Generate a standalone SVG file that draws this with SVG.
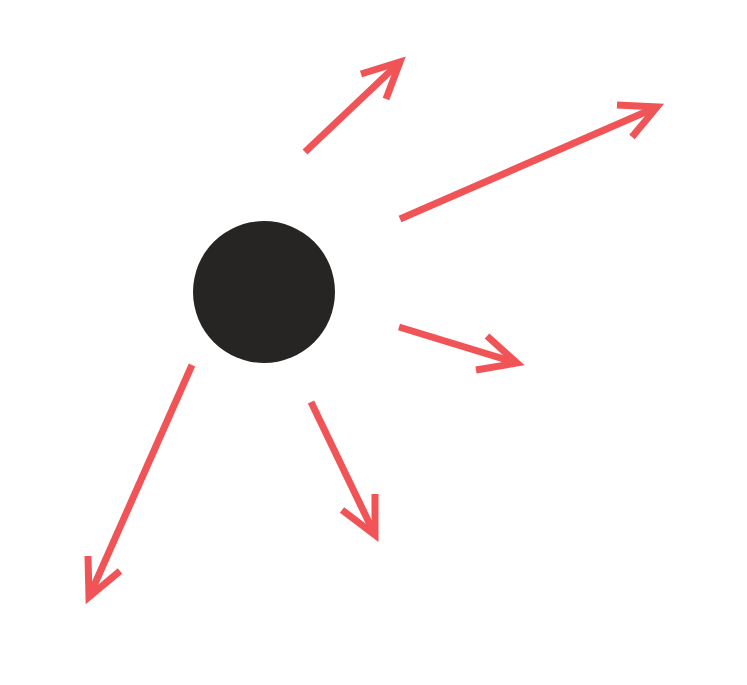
<svg xmlns="http://www.w3.org/2000/svg" width="747" height="685" viewBox="0 0 747 685">
<style>
.a{fill:none;stroke:#f05456;stroke-width:7;stroke-linecap:butt;stroke-linejoin:miter;stroke-miterlimit:10}
</style>
<rect width="747" height="685" fill="#ffffff"/>
<g id="node-center">
<circle cx="264" cy="292" r="71" fill="#262523"/>
</g>
<g id="connectors">
<g id="arrow-1"><line class="a" x1="305" y1="152" x2="400" y2="62"/><polyline class="a" points="361,74 400,62 386,99"/></g>
<g id="arrow-2"><line class="a" x1="400" y1="219" x2="657" y2="107"/><polyline class="a" points="617,105 657,107 632,137"/></g>
<g id="arrow-3"><line class="a" x1="399" y1="327" x2="517" y2="363"/><polyline class="a" points="487,336 517,363 476,370"/></g>
<g id="arrow-4"><line class="a" x1="311" y1="402" x2="375" y2="535"/><polyline class="a" points="375,494 375,535 342,510"/></g>
<g id="arrow-5"><line class="a" x1="192" y1="365" x2="89" y2="597"/><polyline class="a" points="88,556 89,597 120,571"/></g>
</g>
</svg>
